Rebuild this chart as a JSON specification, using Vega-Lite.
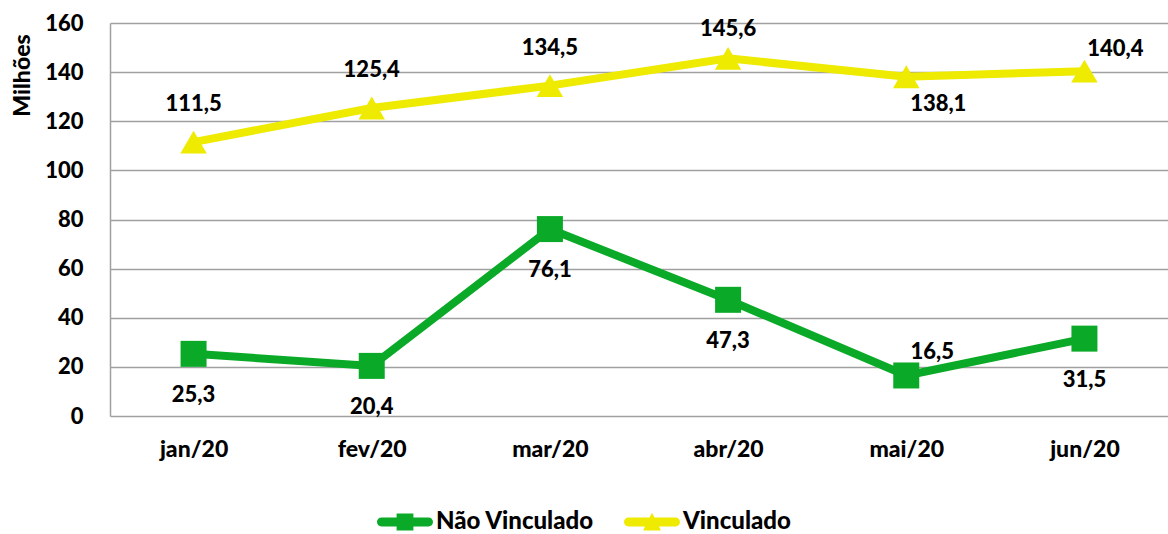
{
  "$schema": "https://vega.github.io/schema/vega-lite/v6.json",
  "width": 1058,
  "height": 393,
  "autosize": {"type": "none"},
  "padding": {"left": 110, "top": 23, "right": 0, "bottom": 118},
  "config": {
    "font": "Lato",
    "view": {"stroke": null},
    "locale": {"number": {"decimal": ",", "thousands": ".", "grouping": [3], "currency": ["R$", ""]}},
    "axis": {"labelFont": "Lato", "labelFontWeight": 900, "labelFontSize": 22, "labelColor": "#000000", "titleFont": "Lato", "titleFontWeight": 900, "titleFontSize": 23, "titleColor": "#000000"}
  },
  "data": {
    "values": [
      {"mes": "jan/20", "serie": "Não Vinculado", "valor": 25.3},
      {"mes": "fev/20", "serie": "Não Vinculado", "valor": 20.4},
      {"mes": "mar/20", "serie": "Não Vinculado", "valor": 76.1},
      {"mes": "abr/20", "serie": "Não Vinculado", "valor": 47.3},
      {"mes": "mai/20", "serie": "Não Vinculado", "valor": 16.5},
      {"mes": "jun/20", "serie": "Não Vinculado", "valor": 31.5},
      {"mes": "jan/20", "serie": "Vinculado", "valor": 111.5},
      {"mes": "fev/20", "serie": "Vinculado", "valor": 125.4},
      {"mes": "mar/20", "serie": "Vinculado", "valor": 134.5},
      {"mes": "abr/20", "serie": "Vinculado", "valor": 145.6},
      {"mes": "mai/20", "serie": "Vinculado", "valor": 138.1},
      {"mes": "jun/20", "serie": "Vinculado", "valor": 140.4}
    ]
  },
  "encoding": {
    "x": {
      "field": "mes", "type": "ordinal",
      "sort": ["jan/20", "fev/20", "mar/20", "abr/20", "mai/20", "jun/20"],
      "scale": {"type": "point", "padding": 0.469},
      "axis": {"title": null, "labelAngle": 0, "domain": false, "ticks": false, "grid": false, "labelPadding": 22, "labelFontSize": 23}
    },
    "y": {
      "field": "valor", "type": "quantitative",
      "scale": {"domain": [0, 160]},
      "axis": {
        "title": "Milhões", "values": [0, 20, 40, 60, 80, 100, 120, 140, 160],
        "domain": true, "domainColor": "#A0A0A0", "domainWidth": 1.5,
        "grid": true, "gridColor": "#A0A0A0", "gridWidth": 1.5,
        "ticks": false, "tickSize": 0, "labelPadding": 27,
        "titleX": -88, "titleY": 52, "titleAngle": -90, "titleAlign": "center", "titleBaseline": "middle"
      }
    }
  },
  "layer": [
    {
      "mark": {"type": "line", "strokeWidth": 8},
      "encoding": {
        "color": {
          "field": "serie", "type": "nominal",
          "scale": {"domain": ["Não Vinculado", "Vinculado"], "range": ["#0AAA28", "#EEEA00"]},
          "legend": {
            "title": null, "orient": "none", "direction": "horizontal",
            "legendX": 267, "legendY": 471,
            "labelFont": "Lato", "labelFontWeight": 900, "labelFontSize": 24, "labelColor": "#000000",
            "symbolSize": 3136, "labelOffset": 3, "columnPadding": 30, "padding": 0,
            "encode": {
              "symbols": {
                "update": {
                  "shape": {"signal": "datum.value === 'Vinculado' ? 'M-0.84,-0.16 L0.84,-0.16 A0.16,0.16 0 0 1 0.84,0.16 L-0.84,0.16 A0.16,0.16 0 0 1 -0.84,-0.16 Z M0,-0.33 L0.32,0.3 L-0.32,0.3 Z' : 'M-0.84,-0.16 L0.84,-0.16 A0.16,0.16 0 0 1 0.84,0.16 L-0.84,0.16 A0.16,0.16 0 0 1 -0.84,-0.16 Z M-0.3,-0.3 L0.3,-0.3 L0.3,0.3 L-0.3,0.3 Z'"},
                  "fill": {"signal": "scale('color', datum.value)"},
                  "stroke": {"value": "transparent"},
                  "strokeWidth": {"value": 0},
                  "opacity": {"value": 1}
                }
              }
            }
          }
        }
      }
    },
    {
      "transform": [{"filter": "datum.serie === 'Não Vinculado'"}],
      "mark": {"type": "point", "filled": true, "size": 676, "opacity": 1, "shape": "square", "color": "#0AAA28"}
    },
    {
      "transform": [{"filter": "datum.serie === 'Vinculado'"}],
      "mark": {"type": "point", "filled": true, "size": 700, "opacity": 1, "shape": "triangle-up", "color": "#EEEA00"}
    },
    {
      "transform": [{"filter": "datum.serie === 'Vinculado' && datum.mes !== 'mai/20' && datum.mes !== 'jun/20' && datum.mes !== 'abr/20'"}],
      "mark": {"type": "text", "dy": -38, "fontSize": 22, "fontWeight": 900, "color": "#000000"},
      "encoding": {"text": {"field": "valor", "type": "quantitative", "format": ".1f"}}
    },
    {
      "transform": [{"filter": "datum.serie === 'Vinculado' && datum.mes === 'abr/20'"}],
      "mark": {"type": "text", "dy": -29, "fontSize": 22, "fontWeight": 900, "color": "#000000"},
      "encoding": {"text": {"field": "valor", "type": "quantitative", "format": ".1f"}}
    },
    {
      "transform": [{"filter": "datum.serie === 'Não Vinculado' && datum.mes !== 'mai/20'"}],
      "mark": {"type": "text", "dy": 41, "fontSize": 22, "fontWeight": 900, "color": "#000000"},
      "encoding": {"text": {"field": "valor", "type": "quantitative", "format": ".1f"}}
    },
    {
      "transform": [{"filter": "datum.mes === 'mai/20' && datum.serie === 'Não Vinculado'"}],
      "mark": {"type": "text", "dx": 26, "dy": -23, "fontSize": 22, "fontWeight": 900, "color": "#000000"},
      "encoding": {"text": {"field": "valor", "type": "quantitative", "format": ".1f"}}
    },
    {
      "transform": [{"filter": "datum.mes === 'jun/20' && datum.serie === 'Vinculado'"}],
      "mark": {"type": "text", "dx": 31, "dy": -22, "fontSize": 22, "fontWeight": 900, "color": "#000000"},
      "encoding": {"text": {"field": "valor", "type": "quantitative", "format": ".1f"}}
    },
    {
      "transform": [{"filter": "datum.mes === 'mai/20' && datum.serie === 'Vinculado'"}],
      "mark": {"type": "text", "dx": 32, "dy": 27, "fontSize": 22, "fontWeight": 900, "color": "#000000"},
      "encoding": {"text": {"field": "valor", "type": "quantitative", "format": ".1f"}}
    }
  ]
}
